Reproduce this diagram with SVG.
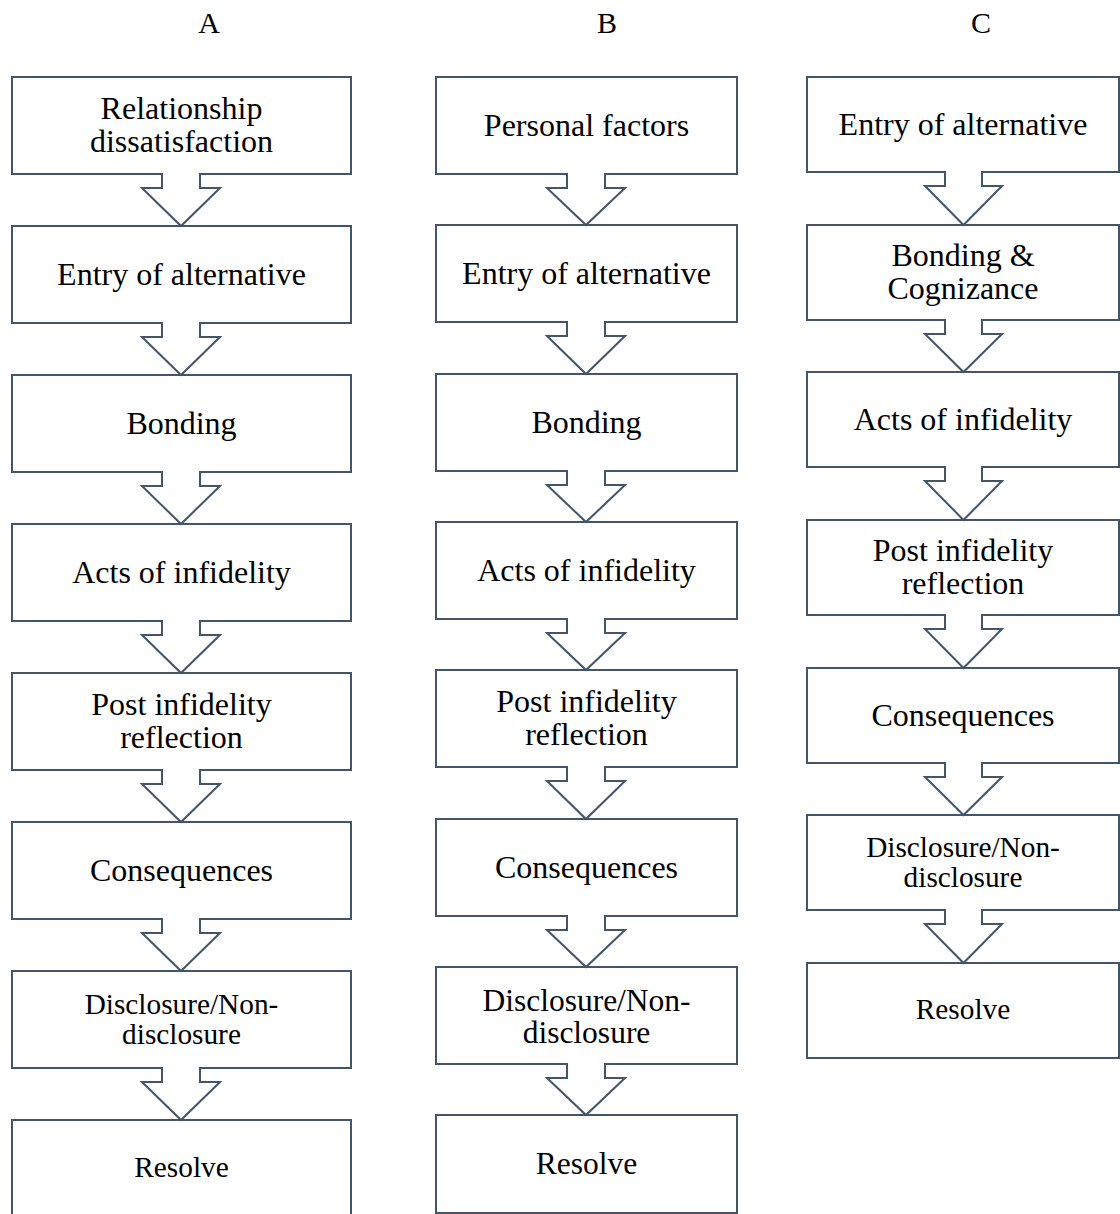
<svg xmlns="http://www.w3.org/2000/svg" width="1120" height="1214" viewBox="0 0 1120 1214">
<style>
.box{fill:#fff;stroke:#44546A;stroke-width:2}
.arr{fill:#fff;stroke:#44546A;stroke-width:2;stroke-linejoin:miter}
text{font-family:"Liberation Serif","Times New Roman",serif;fill:#000;text-anchor:middle}
.m{font-size:32px}
.mb{font-size:31.5px}
.s{font-size:29.3px}
.h{font-size:30px}
</style>
<rect width="1120" height="1214" fill="#fff"/>
<g id="headers">
<text class="h" x="209" y="33">A</text>
<text class="h" x="607" y="33">B</text>
<text class="h" x="981" y="33">C</text>
</g>
<g id="colA">
<g id="a1"><rect class="box" x="12" y="77" width="339" height="97"/><text class="m" x="181.5" y="118.5">Relationship</text><text class="m" x="181.5" y="151.5">dissatisfaction</text></g>
<g id="a2"><rect class="box" x="12" y="226" width="339" height="97"/><text class="m" x="181.5" y="284.5">Entry of alternative</text></g>
<g id="a3"><rect class="box" x="12" y="375" width="339" height="97"/><text class="m" x="181.5" y="433.5">Bonding</text></g>
<g id="a4"><rect class="box" x="12" y="524" width="339" height="97"/><text class="m" x="181.5" y="582.5">Acts of infidelity</text></g>
<g id="a5"><rect class="box" x="12" y="673" width="339" height="97"/><text class="m" x="181.5" y="714.5">Post infidelity</text><text class="m" x="181.5" y="747.5">reflection</text></g>
<g id="a6"><rect class="box" x="12" y="822" width="339" height="97"/><text class="m" x="181.5" y="880.5">Consequences</text></g>
<g id="a7"><rect class="box" x="12" y="971" width="339" height="97"/><text class="s" x="181.5" y="1013.5">Disclosure/Non-</text><text class="s" x="181.5" y="1043.5">disclosure</text></g>
<g id="a8"><rect class="box" x="12" y="1120" width="339" height="97"/><text class="s" x="181.5" y="1177">Resolve</text></g>
</g>
<g id="colB">
<g id="b1"><rect class="box" x="436" y="77" width="301" height="97"/><text class="m" x="586.5" y="135.5">Personal factors</text></g>
<g id="b2"><rect class="box" x="436" y="225" width="301" height="97"/><text class="m" x="586.5" y="283.5">Entry of alternative</text></g>
<g id="b3"><rect class="box" x="436" y="374" width="301" height="97"/><text class="m" x="586.5" y="432.5">Bonding</text></g>
<g id="b4"><rect class="box" x="436" y="522" width="301" height="97"/><text class="m" x="586.5" y="580.5">Acts of infidelity</text></g>
<g id="b5"><rect class="box" x="436" y="670" width="301" height="97"/><text class="m" x="586.5" y="711.5">Post infidelity</text><text class="m" x="586.5" y="744.5">reflection</text></g>
<g id="b6"><rect class="box" x="436" y="819" width="301" height="97"/><text class="m" x="586.5" y="877.5">Consequences</text></g>
<g id="b7"><rect class="box" x="436" y="967" width="301" height="97"/><text class="mb" x="586.5" y="1010.5">Disclosure/Non-</text><text class="mb" x="586.5" y="1042.5">disclosure</text></g>
<g id="b8"><rect class="box" x="436" y="1115" width="301" height="98"/><text class="mb" x="586.5" y="1174">Resolve</text></g>
</g>
<g id="colC">
<g id="c1"><rect class="box" x="807" y="77" width="312" height="95"/><text class="m" x="963" y="134.5">Entry of alternative</text></g>
<g id="c2"><rect class="box" x="807" y="225" width="312" height="95"/><text class="m" x="963" y="265.5">Bonding &amp;</text><text class="m" x="963" y="298.5">Cognizance</text></g>
<g id="c3"><rect class="box" x="807" y="372" width="312" height="95"/><text class="m" x="963" y="429.5">Acts of infidelity</text></g>
<g id="c4"><rect class="box" x="807" y="520" width="312" height="95"/><text class="m" x="963" y="560.5">Post infidelity</text><text class="m" x="963" y="593.5">reflection</text></g>
<g id="c5"><rect class="box" x="807" y="668" width="312" height="95"/><text class="m" x="963" y="725.5">Consequences</text></g>
<g id="c6"><rect class="box" x="807" y="815" width="312" height="95"/><text class="s" x="963" y="856.5">Disclosure/Non-</text><text class="s" x="963" y="886.5">disclosure</text></g>
<g id="c7"><rect class="box" x="807" y="963" width="312" height="95"/><text class="s" x="963" y="1018.5">Resolve</text></g>
</g>
<g id="connectors">
<path class="arr" d="M162,173 V188 H142 L181,226 L220,188 H200 V173"/>
<path class="arr" d="M162,322 V337 H142 L181,375 L220,337 H200 V322"/>
<path class="arr" d="M162,471 V486 H142 L181,524 L220,486 H200 V471"/>
<path class="arr" d="M162,620 V635 H142 L181,673 L220,635 H200 V620"/>
<path class="arr" d="M162,769 V784 H142 L181,822 L220,784 H200 V769"/>
<path class="arr" d="M162,918 V933 H142 L181,971 L220,933 H200 V918"/>
<path class="arr" d="M162,1067 V1082 H142 L181,1120 L220,1082 H200 V1067"/>

<path class="arr" d="M567,173 V188 H547 L586,225 L625,188 H605 V173"/>
<path class="arr" d="M567,321 V336 H547 L586,374 L625,336 H605 V321"/>
<path class="arr" d="M567,470 V485 H547 L586,522 L625,485 H605 V470"/>
<path class="arr" d="M567,618 V633 H547 L586,670 L625,633 H605 V618"/>
<path class="arr" d="M567,766 V781 H547 L586,819 L625,781 H605 V766"/>
<path class="arr" d="M567,915 V930 H547 L586,967 L625,930 H605 V915"/>
<path class="arr" d="M567,1063 V1078 H547 L586,1115 L625,1078 H605 V1063"/>

<path class="arr" d="M945,171 V186 H925 L963.5,225 L1002,186 H982 V171"/>
<path class="arr" d="M945,319 V334 H925 L963.5,372 L1002,334 H982 V319"/>
<path class="arr" d="M945,466 V481 H925 L963.5,520 L1002,481 H982 V466"/>
<path class="arr" d="M945,614 V629 H925 L963.5,668 L1002,629 H982 V614"/>
<path class="arr" d="M945,762 V777 H925 L963.5,815 L1002,777 H982 V762"/>
<path class="arr" d="M945,909 V924 H925 L963.5,963 L1002,924 H982 V909"/>
</g>
</svg>
